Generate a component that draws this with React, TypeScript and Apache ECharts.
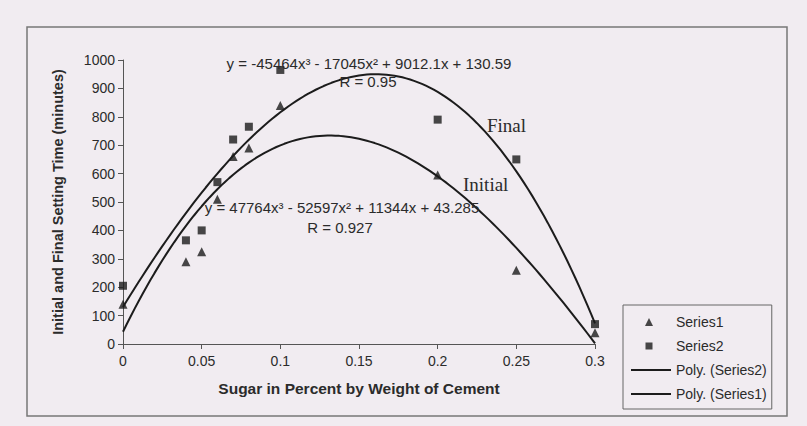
import React, { useEffect, useRef } from "react";
import * as echarts from "echarts";

// Sugar content (% by weight of cement)
const xValues = [0, 0.04, 0.05, 0.06, 0.07, 0.08, 0.1, 0.2, 0.25, 0.3];
// Series1 = initial setting time (triangles)
const series1Values = [140, 290, 325, 510, 660, 690, 840, 595, 260, 40];
// Series2 = final setting time (squares)
const series2Values = [205, 365, 400, 570, 720, 765, 965, 790, 650, 70];

// Trendline coefficients as printed on the chart: c0 + c1 x + c2 x^2 + c3 x^3
const finalCoef = [130.59, 9012.1, -17045, -45464];
const initialCoef = [43.285, 11344, -52597, 47764];

const finalEquation = "y = -45464x³ - 17045x² + 9012.1x + 130.59";
const finalR = "R = 0.95";
const initialEquation = "y = 47764x³ - 52597x² + 11344x + 43.285";
const initialR = "R = 0.927";

const xTicks = { min: 0, max: 0.3, interval: 0.05 };
const yTicks = { min: 0, max: 1000, interval: 100 };

function polyCurve(coef: number[]): number[][] {
  const pts: number[][] = [];
  const n = 120;
  for (let i = 0; i <= n; i++) {
    const x = (xTicks.max * i) / n;
    const y = coef[0] + coef[1] * x + coef[2] * x * x + coef[3] * x * x * x;
    pts.push([x, y]);
  }
  return pts;
}

const INK = "#1c1c1c";
const TEXT = "#2b2b2b";
const AXIS = "#555";
const SANS = "Liberation Sans, Arial, sans-serif";
const SERIF = "Liberation Serif, Times New Roman, serif";

// legend icons: small marker centred in a 40x8 box (corner move-tos fix the box)
const TRI_ICON = "path://M0,0 M40,8 M14,8 L22,8 L18,0 Z";
const SQ_ICON = "path://M0,0 M40,8 M14.5,0.5 L21.5,0.5 L21.5,7.5 L14.5,7.5 Z";

export default function App() {
  const ref = useRef<HTMLDivElement>(null);
  useEffect(() => {
    if (!ref.current) return;
    const chart = echarts.init(ref.current, null, { renderer: "svg" });
    const label = (x: number, y: number, text: string, size: number, family: string, align: string) => ({
      type: "text",
      x,
      y,
      z: 10,
      style: { text, fontSize: size, fill: TEXT, align, verticalAlign: "middle", fontFamily: family },
    });
    chart.setOption({
      animation: false,
      backgroundColor: "#f1ecf1",
      textStyle: { fontFamily: SANS },
      grid: { left: 123, top: 60, right: 212, bottom: 82 },
      xAxis: {
        type: "value",
        min: xTicks.min,
        max: xTicks.max,
        interval: xTicks.interval,
        name: "Sugar in Percent by Weight of Cement",
        nameLocation: "middle",
        nameGap: 36,
        nameTextStyle: { fontSize: 15.5, fontWeight: "bold", color: TEXT },
        axisLine: { lineStyle: { color: AXIS, width: 1 } },
        axisTick: { show: true, length: 5, lineStyle: { color: AXIS } },
        axisLabel: { fontSize: 14, color: TEXT, margin: 10 },
        splitLine: { show: false },
      },
      yAxis: {
        type: "value",
        min: yTicks.min,
        max: yTicks.max,
        interval: yTicks.interval,
        name: "Initial and Final Setting Time (minutes)",
        nameLocation: "middle",
        nameGap: 58,
        nameTextStyle: { fontSize: 14.5, fontWeight: "bold", color: TEXT },
        axisLine: { show: true, lineStyle: { color: AXIS, width: 1 } },
        axisTick: { show: true, length: 5, lineStyle: { color: AXIS } },
        axisLabel: { fontSize: 14, color: TEXT, margin: 8, formatter: (v: number) => String(v) },
        splitLine: { show: false },
      },
      legend: {
        orient: "vertical",
        left: 623,
        top: 305,
        padding: [10, 5, 8, 7],
        itemWidth: 40,
        itemHeight: 8,
        itemGap: 10,
        borderColor: "#666",
        borderWidth: 1,
        textStyle: { fontSize: 14, color: TEXT, lineHeight: 14 },
        data: [
          { name: "Series1", icon: TRI_ICON },
          { name: "Series2", icon: SQ_ICON },
          { name: "Poly. (Series2)", itemStyle: { color: "rgba(0,0,0,0)", borderWidth: 0, opacity: 0 } },
          { name: "Poly. (Series1)", itemStyle: { color: "rgba(0,0,0,0)", borderWidth: 0, opacity: 0 } },
        ],
      },
      graphic: [
        {
          type: "rect",
          shape: { x: 27, y: 27, width: 760, height: 389 },
          style: { fill: "none", stroke: "#777", lineWidth: 1.5 },
          silent: true,
          z: -1,
        },
        label(369, 63, finalEquation, 15, SANS, "center"),
        label(368, 81, finalR, 15, SANS, "center"),
        label(342, 207, initialEquation, 15, SANS, "center"),
        label(340, 227, initialR, 15, SANS, "center"),
        label(487, 125, "Final", 19, SERIF, "left"),
        label(463, 184, "Initial", 19, SERIF, "left"),
      ],
      series: [
        {
          name: "Series1",
          type: "scatter",
          symbol: "triangle",
          symbolSize: 9,
          itemStyle: { color: INK },
          data: xValues.map((x, i) => [x, series1Values[i]]),
          z: 5,
        },
        {
          name: "Series2",
          type: "scatter",
          symbol: "rect",
          symbolSize: 8,
          itemStyle: { color: INK },
          data: xValues.map((x, i) => [x, series2Values[i]]),
          z: 5,
        },
        {
          name: "Poly. (Series2)",
          type: "line",
          symbol: "none",
          showSymbol: false,
          lineStyle: { color: INK, width: 2 },
          itemStyle: { color: INK },
          data: polyCurve(finalCoef),
          z: 3,
        },
        {
          name: "Poly. (Series1)",
          type: "line",
          symbol: "none",
          showSymbol: false,
          lineStyle: { color: INK, width: 2 },
          itemStyle: { color: INK },
          data: polyCurve(initialCoef),
          z: 3,
        },
      ],
    });
    return () => chart.dispose();
  }, []);
  return (
    <div
      ref={ref}
      style={{ position: "fixed", left: 0, top: 0, width: 807, height: 426 }}
    />
  );
}
